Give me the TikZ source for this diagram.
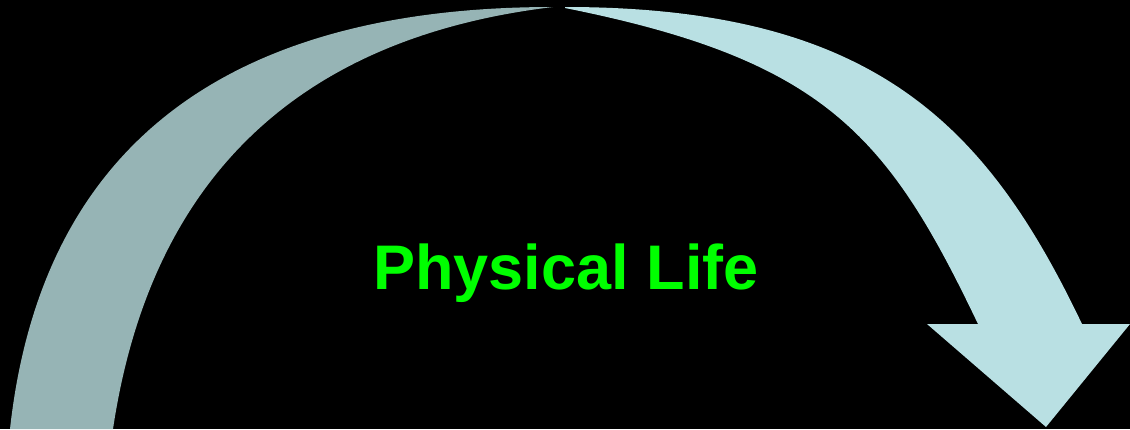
\documentclass[tikz,border=0pt]{standalone}
\usepackage{fontspec}
\setmainfont{Liberation Sans}
\definecolor{backband}{RGB}{150,180,181}
\definecolor{frontband}{RGB}{185,224,227}
\definecolor{lifegreen}{RGB}{0,255,0}
\begin{document}
\begin{tikzpicture}[x=1pt,y=-1pt,
  bandback/.style={fill=backband},
  bandfront/.style={fill=frontband},
  titletext/.style={font=\bfseries\fontsize{63}{63}\selectfont, text=lifegreen, anchor=base, inner sep=0pt}]
\fill[black] (0,0) rectangle (1130,429);
\useasboundingbox (0,0) rectangle (1130,429);
% back (left) band
\fill[bandback] (10,429) .. controls (41,149) and (223,7) .. (553,7)
  .. controls (278,40) and (147.5,199) .. (113,429) -- cycle;
% front (right) band with arrow head
\fill[bandfront] (565,7) .. controls (875,7) and (987.4,126) .. (1082,324)
  -- (1130,324) -- (1046,427) -- (927,324) -- (978,324)
  .. controls (887.7,135) and (825,60) .. (565,8) -- cycle;
\node[titletext] (title) at (566,289) {Physical Life};
\end{tikzpicture}
\end{document}
